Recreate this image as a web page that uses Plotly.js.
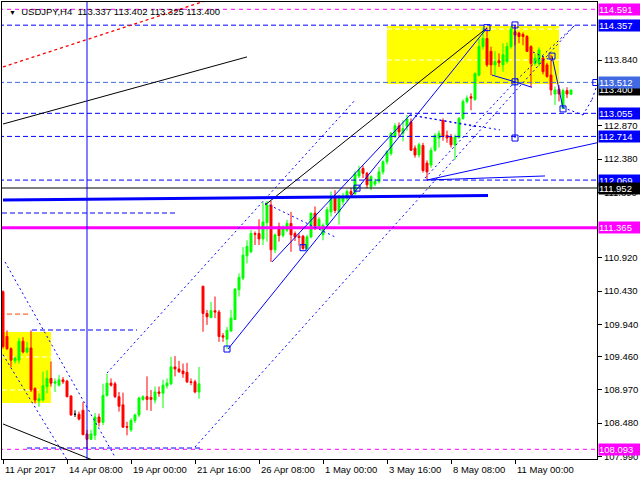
<!DOCTYPE html>
<html><head><meta charset="utf-8">
<script src="https://cdn.plot.ly/plotly-3.0.1.min.js"></script>
<style>html,body{margin:0;padding:0;background:#fff}#c{width:640px;height:480px}</style>
</head><body><div id="c"></div>
<script>
const symbol = 'USDJPY,H4';
const openP = [110.42,109.76,109.58,109.40,109.41,109.69,109.53,109.59,108.99,108.81,
108.82,109.02,109.14,109.07,109.04,109.12,109.10,108.88,108.61,108.61,
108.67,108.32,108.24,108.30,108.57,108.49,108.89,109.07,109.06,108.87,
108.75,108.43,108.38,108.52,108.60,108.83,108.87,108.86,108.82,108.94,
108.92,109.03,109.06,109.31,109.28,109.25,109.23,109.09,109.09,108.94,
110.50,110.10,110.04,110.14,110.12,109.77,109.72,109.84,110.01,110.45,
110.62,110.95,111.01,111.28,111.28,111.20,111.44,111.70,111.04,111.38,
111.25,111.33,111.43,111.28,111.24,111.24,111.06,111.23,111.58,111.39,
111.26,111.41,111.60,111.81,111.60,111.75,111.80,111.90,111.87,112.13,
112.24,112.17,111.97,112.01,112.05,112.19,112.34,112.46,112.71,112.87,
112.76,112.86,112.93,112.54,112.44,112.58,112.32,112.29,112.51,112.69,
112.95,112.73,112.71,112.59,112.70,112.98,113.23,113.30,113.26,113.62,
114.04,114.16,113.97,113.77,113.83,113.77,113.82,114.04,114.26,114.24,
114.22,114.19,114.04,113.79,113.79,113.87,113.77,113.62,113.34,113.41,
113.13,113.39,113.337];
const highP = [110.44,109.85,109.60,109.46,109.74,109.75,109.68,109.85,109.01,108.92,
109.24,109.26,109.39,109.14,109.19,109.16,109.12,108.89,108.67,108.65,
108.79,108.38,108.38,108.63,108.62,109.06,109.205,109.14,109.09,108.94,
108.93,108.50,108.55,108.62,108.87,108.89,109.17,108.97,109.02,109.02,
109.12,109.14,109.46,109.47,109.40,109.36,109.37,109.14,109.12,109.31,
110.51,110.15,110.27,110.35,110.15,109.81,109.90,110.15,110.47,110.69,
111.08,111.18,111.33,111.31,111.49,111.74,111.76,111.76,111.28,111.44,
111.40,111.48,111.60,111.31,111.28,111.26,111.26,111.59,111.68,111.52,
111.43,111.67,111.90,111.92,111.85,111.88,111.93,111.95,112.20,112.28,
112.28,112.19,112.14,112.09,112.26,112.36,112.51,112.78,112.91,112.92,
112.95,113.03,112.98,112.58,112.62,112.62,112.36,112.55,112.76,112.80,
112.98,112.80,112.75,112.74,113.00,113.26,113.32,113.35,113.66,114.16,
114.32,114.32,114.04,113.97,113.94,114.09,114.10,114.34,114.36,114.26,
114.25,114.21,114.06,113.93,114.03,113.90,113.80,113.92,113.45,113.47,
113.42,113.44,113.402];
const lowP = [109.58,109.56,109.31,109.36,109.36,109.51,109.51,108.94,108.77,108.72,
108.80,108.92,109.02,108.94,109.02,109.06,108.86,108.59,108.57,108.52,
108.30,108.107,108.23,108.23,108.43,108.45,108.87,109.02,108.85,108.65,
108.41,108.30,108.35,108.48,108.57,108.81,108.67,108.66,108.77,108.87,
108.70,108.99,109.04,109.17,109.22,109.15,109.07,109.04,108.92,108.84,
109.83,109.93,110.03,110.03,109.68,109.68,109.58,109.83,110.00,110.35,
110.59,110.84,110.99,111.11,111.11,111.11,111.16,110.86,110.99,111.16,
111.22,111.30,111.01,111.17,111.10,111.04,111.03,111.21,111.33,111.36,
111.18,111.38,111.53,111.58,111.41,111.70,111.76,111.83,111.85,112.10,
112.10,111.95,111.92,111.98,112.02,112.15,112.30,112.43,112.69,112.70,
112.64,112.80,112.50,112.40,112.40,112.18,112.07,112.25,112.49,112.55,
112.65,112.62,112.55,112.37,112.68,112.96,113.20,113.10,113.24,113.60,
114.00,113.74,113.62,113.62,113.74,113.67,113.79,114.01,114.06,114.09,
114.06,113.96,113.44,113.76,113.75,113.63,113.58,113.32,113.18,113.23,
113.12,113.28,113.325];
const closeP = [109.61,109.58,109.41,109.44,109.69,109.53,109.59,108.97,108.82,108.84,
109.03,109.14,109.07,109.09,109.12,109.09,108.87,108.60,108.61,108.54,
108.31,108.24,108.32,108.57,108.49,108.89,109.07,109.04,108.87,108.73,
108.42,108.42,108.52,108.60,108.85,108.87,108.83,108.83,108.94,108.92,
109.04,109.07,109.31,109.28,109.24,109.21,109.09,109.08,108.94,109.06,
110.10,110.05,110.14,110.12,109.76,109.75,109.85,110.03,110.46,110.63,
110.96,111.09,111.28,111.27,111.20,111.45,111.70,111.04,111.26,111.25,
111.36,111.43,111.26,111.23,111.22,111.06,111.23,111.58,111.39,111.49,
111.40,111.63,111.80,111.62,111.80,111.83,111.90,111.86,112.16,112.22,
112.17,112.00,112.12,112.05,112.19,112.34,112.49,112.76,112.87,112.78,
112.83,112.97,112.51,112.44,112.59,112.21,112.19,112.51,112.73,112.76,
112.71,112.69,112.59,112.71,112.98,113.23,113.28,113.28,113.64,114.04,
114.16,113.77,113.77,113.82,113.80,113.92,114.04,114.30,114.21,114.19,
114.19,113.97,113.79,113.87,113.99,113.67,113.60,113.40,113.40,113.34,
113.39,113.34,113.400];

const xTickBars = [0,16,32,48,64,80,96,112,128];
const xTickLabels = ['11 Apr 2017','14 Apr 08:00','19 Apr 00:00','21 Apr 16:00','26 Apr 08:00','1 May 00:00','3 May 16:00','8 May 08:00','11 May 00:00'];
const yTickVals = [113.840,112.870,112.380,111.890,110.920,110.430,109.940,109.460,108.970,108.480,107.990];

// horizontal price levels
const levelBlueDash = [114.357,113.055,112.714,112.069];
const levelRoyalDash = [113.512];
const levelMagentaDash = [114.591,108.093];
const levelMagentaSolid = [111.365];
const levelBlack = [111.952];

// drawn objects as [bar0, price0, bar1, price1]
const segBlack = [[0,112.897,61,113.888],[0,108.467,30,107.754],[65.5,111.70,121,114.316]];
const segRedDot = [[0,113.74,56,114.82]];
const segThickBlue = [[0,111.775,121.25,111.84]];
const segBlueSolid = [[21,107.5,21,115],[56.25,109.574,121,114.316],[67.25,110.86,101.75,113.03],
  [106,112.07,148.5,112.62],[106,112.07,135.5,112.13],[128,114.36,128,112.69],[137.25,113.90,140,113.13],
  [122.2,113.62,128,113.52],[128,113.52,132.2,113.44]];
const segBlueDot = [[48,108.127,143,114.36],[26,109.22,88,113.25],[0.5,110.86,28,107.98],[0,109.49,16,107.94],
  [101.75,113.03,124.25,112.81],[101.75,113.03,119,112.85],[65.5,111.73,83,111.23],[127.5,113.50,142.5,114.33],
  [105.5,112.10,128,113.52],[132.5,113.96,137.25,113.83],
  [140,113.14,145,113.03],[145,113.03,147.25,113.26],[147.25,113.26,148.5,113.47]];
const segBlueDash = [[-0.25,111.583,43.5,111.583],[7.25,109.855,33.5,109.855],[6,108.112,50,108.112]];
const segOrangeDash = [[1,110.09,6.25,110.09]];
const markerBars = [56,121,128,128,128,137.25,140,148.2,75,88.5];
const markerPrices = [109.574,114.32,114.36,113.52,112.69,113.90,113.12,113.51,111.07,111.95];
const yellowBoxes = [[96,139,113.488,114.345],[-0.25,12,108.777,109.826]];
const whiteDashLevels = [[96,139,113.843],[96,139,114.30],[-0.25,12,109.457],[-0.25,12,108.969]];

const FONT = 'Liberation Sans, Arial, sans-serif';
const BLUE = '#0000ff', MAG = '#ff00ff', ROYAL = '#4169e1';

function segTrace(segs, color, width, dash) {
  const x = [], y = [];
  segs.forEach(s => { x.push(s[0], s[2], null); y.push(s[1], s[3], null); });
  return {type:'scatter', mode:'lines', x, y, line:{color, width, dash}, hoverinfo:'skip', showlegend:false};
}
function levelSegs(levels) { return levels.map(v => [-5, v, 160, v]); }

const nx = [], no = [], nh = [], nl = [], nc = [];
const dx = [], dop = [], dh = [], dl = [], dc = [];
openP.forEach((o, i) => {
  if (o === closeP[i]) { dx.push(i); dop.push(o); dh.push(highP[i]); dl.push(lowP[i]); dc.push(closeP[i]); }
  else { nx.push(i); no.push(o); nh.push(highP[i]); nl.push(lowP[i]); nc.push(closeP[i]); }
});

const traces = [
  {type:'candlestick', x:nx, open:no, high:nh, low:nl, close:nc,
   increasing:{line:{color:'#00ff00', width:1}, fillcolor:'#00ff00'},
   decreasing:{line:{color:'#ff0000', width:1}, fillcolor:'#ff0000'},
   hoverinfo:'skip', showlegend:false},
  {type:'candlestick', x:dx, open:dop, high:dh, low:dl, close:dc,
   increasing:{line:{color:'#000000', width:1}, fillcolor:'#000000'},
   decreasing:{line:{color:'#000000', width:1}, fillcolor:'#000000'},
   hoverinfo:'skip', showlegend:false},
  segTrace(levelSegs(levelMagentaDash), MAG, 1, '4px,4px'),
  segTrace(levelSegs(levelBlueDash), BLUE, 1, '5px,3px'),
  segTrace(levelSegs(levelRoyalDash), ROYAL, 1, '5px,3px'),
  segTrace(levelSegs(levelBlack), '#000000', 1, 'solid'),
  segTrace(levelSegs(levelMagentaSolid), MAG, 3, 'solid'),
  segTrace(segBlueDash, BLUE, 1, '5px,3px'),
  segTrace(segOrangeDash, '#ff4500', 1, '5px,3px'),
  segTrace(segBlueDot, BLUE, 1, '2px,3px'),
  segTrace(segRedDot, '#ff0000', 1.3, '3px,3px'),
  segTrace(segBlack, '#000000', 1, 'solid'),
  segTrace(segBlueSolid, BLUE, 1, 'solid'),
  segTrace(segThickBlue, BLUE, 3, 'solid'),
  {type:'scatter', mode:'markers', x:markerBars, y:markerPrices,
   marker:{symbol:'square-open', size:6, color:BLUE, line:{width:1, color:BLUE}},
   hoverinfo:'skip', showlegend:false}
];

const shapes = [];
yellowBoxes.forEach(b => shapes.push({type:'rect', layer:'below', xref:'x', yref:'y',
  x0:b[0], x1:b[1], y0:b[2], y1:b[3], fillcolor:'#ffff00', line:{width:0}}));
whiteDashLevels.forEach(w => shapes.push({type:'line', layer:'below', xref:'x', yref:'y',
  x0:w[0], x1:w[1], y0:w[2], y1:w[2], line:{color:'#ffffff', width:1, dash:'5px,3px'}}));

const last = closeP.length - 1;
const labelList = [[closeP[last], '#000000']];
levelMagentaDash.slice(0,1).forEach(v => labelList.push([v, MAG]));
levelBlueDash.slice(0,1).forEach(v => labelList.push([v, BLUE]));
levelRoyalDash.forEach(v => labelList.push([v, ROYAL]));
levelBlueDash.slice(1).forEach(v => labelList.push([v, BLUE]));
levelBlack.forEach(v => labelList.push([v, '#000000']));
levelMagentaSolid.forEach(v => labelList.push([v, MAG]));
levelMagentaDash.slice(1).forEach(v => labelList.push([v, MAG]));

const annotations = [];
labelList.forEach(([v, col]) => annotations.push({
  xref:'paper', x:1, xanchor:'left', xshift:1, yref:'y', y:v, yanchor:'middle',
  text:v.toFixed(3), showarrow:false, bgcolor:col, width:41, height:11, align:'left', borderpad:0,
  font:{family:FONT, size:9.5, color:'#ffffff'}}));
xTickBars.forEach((b, i) => annotations.push({
  xref:'x', x:b, xanchor:'left', xshift:0, yref:'paper', y:0, yanchor:'top', yshift:-3,
  text:xTickLabels[i], showarrow:false, font:{family:FONT, size:9.5, color:'#000000'}}));
annotations.push({
  xref:'paper', x:0, xanchor:'left', xshift:5, yref:'paper', y:1, yanchor:'middle', yshift:-9,
  text:'<span style="font-size:7px">▼</span>  ' + symbol + '  ' +
    [openP[last], highP[last], lowP[last], closeP[last]].map(v => v.toFixed(3)).join(' '),
  showarrow:false, font:{family:FONT, size:9.5, color:'#000000'}});

const layout = {
  width:640, height:480, margin:{l:2, r:43, t:2, b:21},
  paper_bgcolor:'#ffffff', plot_bgcolor:'#ffffff', showlegend:false, hovermode:false,
  boxgap:0.3, boxgroupgap:0.3,
  xaxis:{type:'linear', range:[-0.25,148.5], showgrid:false, zeroline:false, showline:true, mirror:true,
    linecolor:'#000000', linewidth:1, ticks:'outside', ticklen:4, tickcolor:'#000000',
    tickvals:xTickBars, showticklabels:false, rangeslider:{visible:false}, fixedrange:true},
  yaxis:{side:'right', range:[107.950,114.699], showgrid:false, zeroline:false, showline:true, mirror:true,
    linecolor:'#000000', linewidth:1, ticks:'outside', ticklen:4, tickcolor:'#000000',
    tickvals:yTickVals, ticktext:yTickVals.map(v => v.toFixed(3)),
    tickfont:{family:FONT, size:9.5, color:'#000000'}, fixedrange:true},
  shapes, annotations
};

Plotly.newPlot('c', traces, layout, {staticPlot:true, displayModeBar:false});
</script>
</body></html>
